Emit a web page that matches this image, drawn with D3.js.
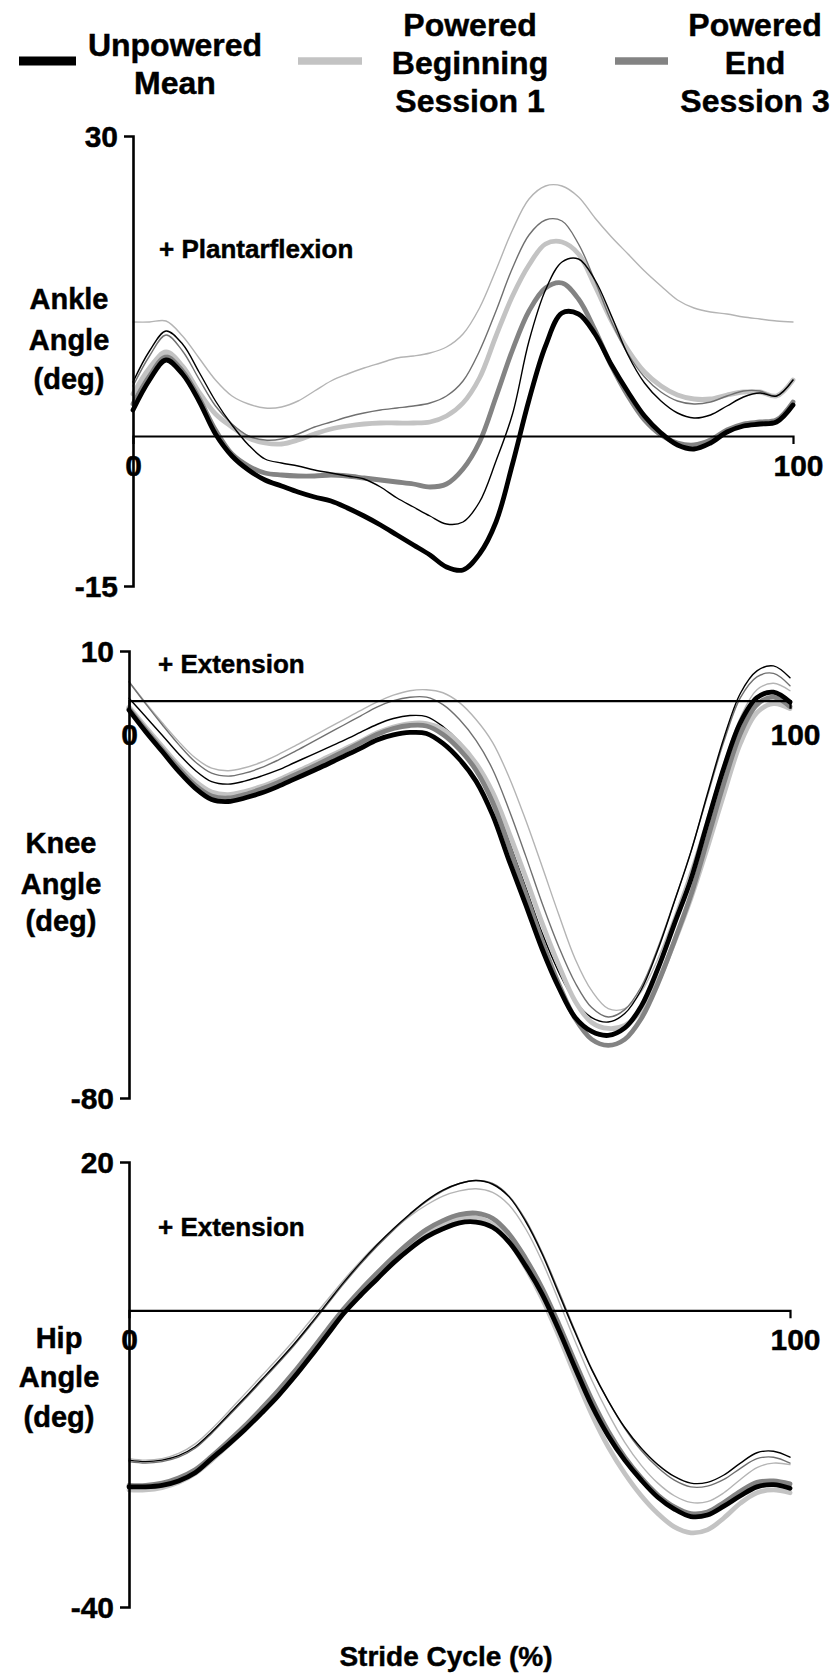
<!DOCTYPE html>
<html>
<head>
<meta charset="utf-8">
<script src="https://cdn.jsdelivr.net/npm/d3@7/dist/d3.min.js"></script>
<style>
  html, body { margin: 0; padding: 0; background: #fff; }
  svg { display: block; }
  text { font-family: "Liberation Sans", Arial, sans-serif; font-weight: bold; fill: #000;
         stroke: #000; stroke-width: 0.45px; }
</style>
</head>
<body>
<svg id="chart" width="835" height="1675"></svg>
<script>
// Stride cycle sample points (%)
const stride = [0, 2.5, 5, 7.5, 10, 12.5, 15, 17.5, 20, 22.5, 25, 27.5, 30, 32.5, 35, 37.5, 40,
  42.5, 45, 47.5, 50, 52.5, 55, 57.5, 60, 62.5, 65, 67.5, 70, 72.5, 75, 77.5, 80, 82.5, 85, 87.5,
  90, 92.5, 95, 97.5, 100];

const seriesNames = ["Unpowered Mean", "Powered Beginning Session 1", "Powered End Session 3"];

// ---- Ankle angle (deg), + plantarflexion ----
const ankleUnpowered = [2.6, 5.6, 7.6, 6.2, 3.5, 0.2, -2.0, -3.4, -4.4, -5.0, -5.6, -6.1, -6.5, -7.2,
  -8.0, -8.9, -9.9, -10.9, -11.9, -13.1, -13.4, -11.8, -8.6, -2.8, 3.6, 9.0, 12.3, 12.2, 10.2, 7.1,
  4.4, 2.0, 0.3, -0.9, -1.3, -0.7, 0.4, 1.0, 1.2, 1.4, 3.1];
const ankleUnpoweredSD = [5.4, 8.5, 10.5, 9.2, 6.4, 3.5, 1.1, -0.9, -2.3, -2.7, -3.0, -3.4, -3.7, -4.0,
  -4.3, -5.1, -6.2, -7.1, -8.0, -8.8, -8.6, -6.6, -2.5, 2.2, 9.5, 14.6, 17.4, 17.7, 15.6, 12.0, 8.1,
  5.3, 3.5, 2.3, 1.8, 2.1, 3.0, 3.9, 4.3, 4.0, 5.6];
const ankleBegin = [4.2, 6.8, 8.4, 7.0, 4.4, 2.2, 0.9, -0.2, -0.7, -0.8, -0.4, 0.2, 0.7, 1.0, 1.2, 1.3,
  1.3, 1.3, 1.4, 2.0, 3.3, 5.8, 10.0, 14.0, 17.1, 19.2, 19.4, 18.2, 15.0, 11.5, 8.6, 6.4, 5.0, 4.1,
  3.7, 3.7, 4.1, 4.4, 4.4, 4.0, 5.6];
const ankleBeginSD = [11.4, 11.4, 11.5, 10.0, 7.8, 5.6, 4.0, 3.2, 2.8, 2.9, 3.5, 4.5, 5.5, 6.2, 6.8,
  7.3, 7.8, 8.0, 8.3, 8.9, 10.2, 12.8, 16.6, 20.6, 23.7, 25.0, 25.0, 23.9, 21.8, 19.9, 18.2, 16.5,
  15.0, 13.6, 12.8, 12.4, 12.2, 11.9, 11.7, 11.5, 11.4];
const ankleEnd = [3.2, 6.0, 7.9, 6.5, 3.8, 0.6, -1.8, -3.0, -3.7, -3.9, -4.0, -4.0, -3.9, -4.0, -4.2,
  -4.4, -4.6, -4.8, -5.1, -4.8, -3.3, -0.6, 3.9, 8.6, 12.5, 14.8, 15.3, 13.7, 10.6, 7.0, 4.0, 1.6,
  0.1, -0.7, -0.9, -0.4, 0.6, 1.2, 1.4, 1.6, 3.4];
const ankleEndSD = [5.0, 8.0, 10.1, 8.5, 5.7, 3.0, 1.2, 0.0, -0.4, -0.3, 0.2, 0.9, 1.4, 1.9, 2.3, 2.6,
  2.8, 3.0, 3.3, 4.0, 5.5, 8.5, 12.5, 16.8, 20.1, 21.6, 21.5, 19.2, 15.5, 11.4, 8.2, 5.9, 4.4, 3.5,
  3.2, 3.4, 4.0, 4.5, 4.5, 4.0, 5.6];

// ---- Knee angle (deg), + extension ----
const kneeUnpowered = [-1.9, -6.2, -10.2, -14.2, -17.6, -19.9, -20.3, -19.6, -18.6, -17.3, -15.8,
  -14.3, -12.8, -11.2, -9.6, -7.9, -6.9, -6.4, -6.6, -8.6, -11.8, -16.2, -23.0, -32.2, -41.0, -50.0,
  -57.7, -63.8, -66.6, -67.4, -65.9, -61.5, -54.0, -45.0, -36.0, -24.6, -13.5, -4.4, 0.6, 1.7, -0.3];
const kneeUnpoweredSD = [0.5, -3.2, -6.9, -10.7, -14.0, -16.3, -16.8, -16.2, -15.2, -14.0, -12.5,
  -11.0, -9.5, -8.0, -6.4, -4.8, -3.6, -3.0, -3.2, -5.2, -8.3, -12.7, -19.4, -28.4, -37.5, -46.8,
  -54.6, -60.5, -63.8, -64.7, -63.0, -58.2, -50.2, -40.5, -30.5, -18.8, -7.5, 1.5, 6.0, 7.0, 4.6];
const kneeBegin = [-1.3, -5.3, -9.2, -13.0, -16.2, -18.4, -18.9, -18.3, -17.3, -16.0, -14.5, -13.0,
  -11.4, -9.8, -8.2, -6.5, -5.3, -4.6, -4.6, -5.8, -8.6, -12.6, -18.4, -26.6, -35.5, -44.8, -53.2,
  -60.5, -64.8, -66.0, -65.4, -62.4, -56.6, -48.6, -39.8, -29.6, -18.8, -8.6, -2.4, -0.6, -1.6];
const kneeBeginSD = [3.8, -0.4, -4.4, -8.2, -11.5, -13.6, -14.1, -13.5, -12.4, -10.9, -9.2, -7.4,
  -5.6, -3.8, -2.0, -0.3, 1.1, 2.0, 2.2, 1.6, -0.4, -3.8, -8.4, -15.4, -24.0, -33.4, -43.0, -52.0,
  -58.4, -62.0, -62.0, -58.6, -52.0, -43.4, -34.0, -23.4, -12.6, -3.4, 2.2, 3.5, 2.0];
const kneeEnd = [-1.6, -5.8, -9.8, -13.6, -17.0, -19.2, -19.6, -18.9, -17.8, -16.5, -15.0, -13.5,
  -11.9, -10.2, -8.5, -6.8, -5.6, -5.0, -5.1, -6.8, -9.8, -14.0, -20.4, -29.4, -38.8, -48.4, -57.0,
  -64.0, -68.2, -69.4, -68.2, -64.0, -57.0, -48.4, -39.2, -28.0, -16.6, -6.6, -0.8, 0.7, -1.2];
const kneeEndSD = [3.8, -0.6, -4.8, -8.8, -12.3, -14.6, -15.2, -14.6, -13.5, -12.0, -10.3, -8.5,
  -6.7, -4.9, -3.1, -1.3, 0.0, 0.7, 0.7, -0.8, -3.8, -8.0, -13.8, -22.0, -31.2, -40.8, -49.5, -56.8,
  -61.8, -63.7, -62.2, -57.6, -49.8, -40.4, -30.4, -19.2, -8.2, 0.6, 4.8, 5.5, 3.0];

// ---- Hip angle (deg), + extension ----
const hipUnpowered = [-23.8, -23.8, -23.6, -23.0, -21.9, -20.0, -18.1, -16.1, -13.9, -11.6, -9.0,
  -6.2, -3.3, -0.4, 2.0, 4.2, 6.4, 8.3, 9.9, 11.0, 11.8, 11.9, 11.2, 9.2, 6.0, 2.2, -2.6, -7.8,
  -12.8, -16.9, -20.2, -22.9, -25.2, -26.8, -27.8, -27.6, -26.4, -25.0, -23.8, -23.5, -24.0];
const hipUnpoweredSD = [-20.2, -20.4, -20.2, -19.6, -18.4, -16.4, -14.1, -11.8, -9.4, -7.0, -4.5,
  -1.8, 1.0, 3.8, 6.4, 8.8, 11.0, 13.0, 14.8, 16.2, 17.1, 17.5, 17.0, 15.3, 12.0, 7.6, 2.3, -3.0,
  -8.0, -12.2, -15.8, -18.6, -20.8, -22.4, -23.3, -23.2, -22.2, -20.6, -19.2, -19.0, -19.8];
const hipBegin = [-24.2, -24.2, -23.9, -23.2, -22.0, -20.2, -18.2, -16.1, -13.8, -11.4, -8.8, -6.0,
  -3.1, -0.2, 2.3, 4.6, 6.8, 8.7, 10.4, 11.6, 12.4, 12.5, 11.6, 9.3, 5.8, 1.6, -3.4, -8.8, -14.0,
  -18.4, -22.0, -25.0, -27.4, -29.2, -30.0, -29.6, -28.0, -26.0, -24.6, -24.2, -24.6];
const hipBeginSD = [-20.0, -20.2, -20.0, -19.3, -18.0, -16.0, -13.7, -11.3, -8.9, -6.5, -4.0, -1.3,
  1.4, 4.1, 6.6, 8.9, 10.9, 12.7, 14.2, 15.4, 16.1, 16.4, 15.9, 14.2, 11.0, 6.6, 1.3, -4.2, -9.4,
  -13.9, -17.8, -20.9, -23.3, -25.0, -25.9, -25.8, -24.6, -22.8, -21.2, -20.6, -20.8];
const hipEnd = [-23.6, -23.6, -23.3, -22.6, -21.5, -19.7, -17.7, -15.6, -13.3, -10.9, -8.3, -5.5,
  -2.6, 0.2, 2.7, 5.0, 7.2, 9.2, 10.9, 12.1, 12.9, 13.1, 12.4, 10.3, 7.0, 3.0, -1.8, -7.0, -12.0,
  -16.3, -19.8, -22.6, -24.9, -26.5, -27.4, -27.2, -25.9, -24.4, -23.2, -23.0, -23.4];
const hipEndSD = [-20.4, -20.6, -20.4, -19.8, -18.6, -16.6, -14.3, -12.0, -9.6, -7.2, -4.7, -2.0,
  0.8, 3.6, 6.2, 8.6, 10.8, 12.9, 14.7, 16.1, 17.1, 17.5, 17.1, 15.4, 12.2, 7.8, 2.6, -2.8, -7.9,
  -12.2, -15.9, -18.9, -21.2, -22.9, -23.8, -23.7, -22.8, -21.3, -20.0, -19.8, -20.6];

// Axis limits (deg) for each joint
const ankleLimits = [-15, 30];
const kneeLimits = [-80, 10];
const hipLimits = [-40, 20];
const strideTicks = [0, 100];

// ---------------------------------------------------------------
const svg = d3.select("#chart");
const plainNumber = d => String(d);   // keeps the ASCII hyphen for negatives

const styles = {
  thickBlack: { color: "#000000", width: 4.8 },
  thickLight: { color: "#c3c3c3", width: 4.8 },
  thickDark: { color: "#838383", width: 4.8 },
  thinBlack: { color: "#000000", width: 1.4 },
  thinLight: { color: "#b4b4b4", width: 1.4 },
  thinDark: { color: "#707070", width: 1.4 }
};

const panels = [
  {
    title: ["Ankle", "Angle", "(deg)"], titleX: 69, titleY: [309, 350, 389],
    note: "+ Plantarflexion", noteX: 159, noteY: 258, noteSize: 26, xPad: 19,
    limits: ankleLimits, left: 133, right: 793, top: 136, bottom: 586,
    lines: [
      [ankleBegin, styles.thickLight], [ankleEnd, styles.thickDark], [ankleUnpowered, styles.thickBlack],
      [ankleBeginSD, styles.thinLight], [ankleEndSD, styles.thinDark], [ankleUnpoweredSD, styles.thinBlack]
    ]
  },
  {
    title: ["Knee", "Angle", "(deg)"], titleX: 61, titleY: [853, 894, 931],
    note: "+ Extension", noteX: 158, noteY: 673, noteSize: 26, xPad: 23,
    limits: kneeLimits, left: 129, right: 790, top: 651, bottom: 1098,
    lines: [
      [kneeBeginSD, styles.thinLight], [kneeEndSD, styles.thinDark], [kneeUnpoweredSD, styles.thinBlack],
      [kneeBegin, styles.thickLight], [kneeEnd, styles.thickDark], [kneeUnpowered, styles.thickBlack]
    ]
  },
  {
    title: ["Hip", "Angle", "(deg)"], titleX: 59, titleY: [1348, 1387, 1427],
    note: "+ Extension", noteX: 158, noteY: 1236, noteSize: 26, xPad: 18,
    limits: hipLimits, left: 129, right: 790, top: 1162, bottom: 1607,
    lines: [
      [hipBegin, styles.thickLight], [hipEnd, styles.thickDark], [hipUnpowered, styles.thickBlack],
      [hipBeginSD, styles.thinLight], [hipEndSD, styles.thinDark], [hipUnpoweredSD, styles.thinBlack]
    ]
  }
];

panels.forEach(p => {
  const x = d3.scaleLinear().domain([0, 100]).range([p.left, p.right]);
  const y = d3.scaleLinear().domain(p.limits).range([p.bottom, p.top]);
  const g = svg.append("g");

  // curves
  const line = d3.line()
    .x((d, i) => x(stride[i]))
    .y(d => y(d))
    .curve(d3.curveCatmullRom.alpha(0.5));
  p.lines.forEach(([vals, st]) => {
    g.append("path")
      .attr("d", line(vals))
      .attr("fill", "none")
      .attr("stroke", st.color)
      .attr("stroke-width", st.width)
      .attr("stroke-linejoin", "round")
      .attr("stroke-linecap", "round");
  });

  // zero line acting as the stride axis
  const xAxis = d3.axisBottom(x)
    .tickValues(strideTicks)
    .tickSizeInner(0)
    .tickSizeOuter(8)
    .tickPadding(p.xPad)
    .tickFormat(plainNumber);
  const xg = g.append("g")
    .attr("transform", `translate(0,${y(0)})`)
    .call(xAxis);
  xg.select(".domain").attr("stroke", "#000").attr("stroke-width", 2.2);
  xg.selectAll("text").attr("font-size", 30).attr("font-family", "'Liberation Sans', Arial, sans-serif")
    .attr("font-weight", "bold").attr("fill", "#000");
  xg.selectAll("text").filter(d => d === 100).attr("dx", 5);

  // vertical angle axis
  const yAxis = d3.axisLeft(y)
    .tickValues(p.limits)
    .tickSizeInner(0)
    .tickSizeOuter(9)
    .tickPadding(15)
    .tickFormat(plainNumber);
  const yg = g.append("g")
    .attr("transform", `translate(${p.left},0)`)
    .call(yAxis);
  yg.select(".domain").attr("stroke", "#000").attr("stroke-width", 2.6);
  yg.selectAll("text").attr("font-size", 30).attr("font-family", "'Liberation Sans', Arial, sans-serif")
    .attr("font-weight", "bold").attr("fill", "#000").attr("dy", "0.36em");

  // direction note
  g.append("text")
    .attr("x", p.noteX).attr("y", p.noteY)
    .attr("font-size", p.noteSize)
    .text(p.note);

  // joint title
  p.title.forEach((t, i) => {
    g.append("text")
      .attr("x", p.titleX).attr("y", p.titleY[i])
      .attr("text-anchor", "middle")
      .attr("font-size", 29)
      .text(t);
  });
});

// horizontal axis title
svg.append("text")
  .attr("x", 446).attr("y", 1666)
  .attr("text-anchor", "middle")
  .attr("font-size", 28)
  .text("Stride Cycle (%)");

// legend
const legendItems = [
  { lines: ["Unpowered", "Mean"], sx: [19, 76], sw: 9, color: styles.thickBlack.color, cx: 175, baseY: 56 },
  { lines: ["Powered", "Beginning", "Session 1"], sx: [298, 362], sw: 7.5, color: styles.thickLight.color, cx: 470, baseY: 36 },
  { lines: ["Powered", "End", "Session 3"], sx: [615, 668], sw: 7.5, color: styles.thickDark.color, cx: 755, baseY: 36 }
];
const legend = svg.append("g");
legendItems.forEach(it => {
  legend.append("line")
    .attr("x1", it.sx[0]).attr("x2", it.sx[1])
    .attr("y1", 61).attr("y2", 61)
    .attr("stroke", it.color)
    .attr("stroke-width", it.sw);
  it.lines.forEach((t, i) => {
    legend.append("text")
      .attr("x", it.cx).attr("y", it.baseY + i * 38)
      .attr("text-anchor", "middle")
      .attr("font-size", 32)
      .text(t);
  });
});
</script>
</body>
</html>
